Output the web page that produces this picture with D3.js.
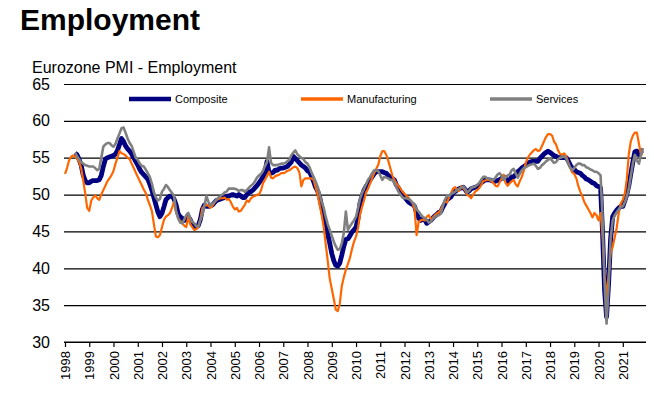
<!DOCTYPE html>
<html>
<head>
<meta charset="utf-8">
<script src="https://cdn.jsdelivr.net/npm/d3@7"></script>
<style>
  body { margin: 0; background: #fff; }
  svg { font-family: "Liberation Sans", Arial, sans-serif; display: block; }
</style>
</head>
<body>
<div id="chart"></div>
<script>
// Monthly series, Jan 1998 - Nov 2021 (one row per year)
var composite = [
  null, null, null, null, null, 55.6, 55.4, 54.8, 54.0, 52.7, 51.9, 51.6,
  51.6, 51.8, 51.9, 51.9, 51.9, 52.0, 52.6, 53.8, 54.8, 55.0, 55.1, 55.2,
  55.3, 55.5, 56.0, 56.8, 57.6, 57.2, 56.6, 56.2, 55.9, 55.5, 55.0, 54.5,
  54.0, 53.4, 53.0, 52.7, 52.4, 52.1, 51.4, 50.6, 49.6, 48.6, 47.6, 47.0,
  47.5, 48.4, 49.3, 49.6, 49.8, 49.8, 49.4, 48.6, 47.4, 47.0, 46.8, 46.5,
  46.6, 47.0, 46.6, 46.0, 45.8, 45.6, 45.8, 46.6, 48.0, 48.6, 48.4, 48.4,
  48.5, 48.6, 48.9, 49.2, 49.3, 49.4, 49.5, 49.6, 49.8, 49.8, 49.9, 50.0,
  49.9, 49.8, 50.0, 49.8, 49.6, 49.6, 50.0, 50.3, 50.4, 50.6, 50.9, 51.2,
  51.6, 52.0, 52.4, 53.0, 54.5, 53.0, 52.9, 53.0, 53.3, 53.3, 53.5, 53.6,
  53.6, 53.7, 53.8, 54.1, 54.4, 55.2, 54.9, 54.6, 54.3, 54.0, 53.8, 53.6,
  53.2, 53.1, 52.5, 51.8, 51.0, 50.5, 49.7, 48.4, 47.0, 45.9, 44.6, 43.4,
  42.0, 41.0, 40.4, 40.3, 40.7, 41.8, 43.0, 43.9, 44.0, 44.4, 44.9, 45.2,
  45.6, 46.8, 48.8, 49.8, 50.6, 51.1, 51.5, 52.0, 52.4, 52.8, 53.1, 53.1,
  53.1, 53.1, 53.0, 52.9, 52.6, 52.4, 52.2, 52.0, 51.3, 50.9, 50.4, 50.1,
  49.7, 49.3, 49.0, 48.8, 48.7, 48.4, 47.5, 46.8, 46.5, 46.7, 46.6, 46.1,
  46.3, 46.5, 46.8, 47.1, 47.3, 47.6, 47.7, 48.3, 48.8, 49.3, 49.5, 49.7,
  50.2, 50.4, 50.6, 50.8, 50.9, 51.0, 50.7, 50.3, 50.5, 50.8, 50.9, 51.0,
  51.1, 51.3, 51.6, 51.8, 52.0, 52.0, 52.0, 51.9, 51.8, 51.8, 51.9, 52.0,
  52.2, 52.4, 52.2, 51.8, 52.0, 52.4, 52.4, 52.7, 53.1, 53.3, 53.6, 53.8,
  54.0, 54.2, 54.4, 54.5, 54.5, 54.5, 54.5, 54.9, 55.2, 55.5, 55.7, 55.9,
  55.7, 55.5, 55.3, 55.2, 55.0, 55.0, 55.0, 55.0, 55.0, 54.6, 54.0, 53.6,
  53.4, 53.1, 53.0, 52.9, 52.6, 52.4, 52.1, 52.0, 51.8, 51.6, 51.5, 51.2,
  51.1, 50.9, 45.0, 37.0, 33.4, 38.0, 44.0, 47.0, 47.5, 47.9, 48.2, 48.4,
  48.4, 49.2, 50.0, 51.2, 52.8, 54.4, 55.8, 55.9, 55.4, 55.9, 56.0
];

var manufacturing = [
  52.8, 53.6, 54.6, 55.1, 55.3, 55.2, 54.9, 54.4, 53.6, 52.0, 50.2, 48.2,
  47.8, 49.2, 49.6, 49.9, 49.5, 49.3, 50.0, 50.6, 51.2, 51.8, 52.2, 52.6,
  53.2, 54.2, 55.0, 55.9, 55.6, 55.5, 55.3, 55.0, 54.8, 54.2, 53.6, 53.0,
  52.4, 51.8, 51.3, 50.7, 50.2, 49.3, 48.6, 47.8, 46.0, 44.3, 44.2, 44.5,
  45.6, 46.6, 47.0, 47.2, 47.5, 48.2, 49.0, 47.6, 46.8, 46.4, 46.1, 45.8,
  45.6, 47.0, 46.0, 45.6, 45.2, 45.3, 45.6, 46.6, 48.2, 48.4, 48.6, 48.5,
  48.2, 48.5, 48.9, 49.3, 49.4, 49.5, 49.5, 49.6, 49.3, 49.4, 49.0, 48.4,
  48.0, 48.2, 47.7, 47.8, 48.2, 48.6, 49.2, 49.0, 49.5, 49.7, 49.8, 50.0,
  50.0, 50.6, 51.5, 52.0, 52.5, 53.1, 52.3, 52.2, 52.5, 52.6, 52.7, 52.9,
  52.9, 53.0, 53.2, 53.3, 53.5, 53.7, 53.8, 53.6, 53.0, 51.1, 52.0, 52.2,
  52.2, 52.2, 52.2, 52.0, 51.0, 50.0, 48.6, 47.3, 45.6, 43.3, 41.0, 38.6,
  37.2, 35.8, 34.4, 34.2, 35.2, 37.6, 38.8, 39.8, 40.6, 41.4, 42.6, 43.6,
  44.3, 45.5, 47.2, 48.3, 49.2, 50.3, 50.8, 51.5, 52.2, 52.9, 53.5, 54.0,
  55.2, 55.9, 55.9, 55.4, 54.6, 53.6, 52.6, 52.0, 51.5, 51.2, 50.8, 50.4,
  50.1, 49.8, 49.6, 49.2, 48.8, 48.0, 44.5, 46.3, 46.5, 46.6, 46.5, 47.0,
  47.2, 46.6, 46.9, 47.2, 47.4, 47.6, 48.0, 48.6, 49.1, 48.9, 49.6, 50.2,
  50.8, 51.0, 50.6, 50.5, 51.1, 50.9, 50.6, 50.0, 49.8, 49.5, 50.0, 50.4,
  50.6, 50.9, 51.3, 51.8, 51.9, 52.0, 52.0, 51.8, 51.6, 51.2, 51.1, 51.6,
  52.2, 52.7, 51.6, 51.2, 51.5, 51.8, 52.0, 51.4, 51.1, 51.8, 52.4, 53.2,
  54.3, 55.0, 55.4, 55.7, 56.0, 56.2, 55.9, 56.0, 56.6, 57.2, 57.8, 58.2,
  58.2, 58.0, 57.2, 56.8, 56.0, 55.5, 55.4, 55.6, 55.2, 54.4, 53.6, 53.0,
  52.8, 52.2, 51.2, 50.4, 49.8, 49.0, 48.5, 48.0, 47.5, 46.9, 47.5, 47.2,
  46.5, 47.5, 44.5, 39.0, 36.1, 39.0, 42.0, 42.9, 44.2, 45.5, 47.5, 48.8,
  49.3, 50.2, 52.0, 55.5, 57.2, 58.0, 58.4, 58.4, 56.9, 55.4, 55.5
];

var services = [
  null, null, null, null, null, 55.7, 55.2, 54.8, 54.4, 54.2, 54.0, 53.9,
  53.8, 53.8, 53.8, 53.6, 53.3, 53.5, 55.0, 56.5, 56.8, 57.0, 57.0, 56.7,
  56.5, 56.9, 57.6, 58.3, 59.0, 59.1, 58.4, 57.6, 57.0, 56.6, 55.8, 55.0,
  54.7, 54.2, 53.9, 53.8, 53.4, 52.9, 52.4, 51.5, 50.3, 49.6, 49.2, 49.4,
  50.4, 50.8, 51.3, 51.0, 50.6, 50.2, 49.8, 47.8, 46.8, 46.2, 46.1, 46.6,
  47.2, 47.5, 46.8, 46.3, 46.1, 45.7, 45.7, 46.5, 47.3, 48.5, 49.8, 49.0,
  48.5, 48.8, 49.0, 49.3, 49.6, 49.8, 50.0, 50.3, 50.4, 50.8, 50.8, 50.8,
  50.8, 50.7, 50.5, 50.6, 50.6, 50.4, 50.6, 50.9, 51.2, 51.4, 51.8, 52.3,
  52.6, 52.8, 53.2, 53.9, 54.4, 56.4, 54.3, 54.0, 54.0, 54.0, 54.1, 54.2,
  54.2, 54.3, 54.5, 54.7, 55.3, 55.7, 56.0, 55.5, 55.2, 55.0, 54.8, 54.4,
  54.2, 53.7, 53.0, 52.4, 51.8, 51.1, 50.2, 49.0, 48.2, 47.0, 46.0, 45.2,
  44.4, 43.6, 43.0, 42.5, 42.6, 43.4, 44.8, 47.7, 45.2, 45.7, 46.1, 46.5,
  47.0, 48.2, 49.4, 50.2, 50.8, 51.4, 52.0, 52.4, 52.9, 53.3, 53.3, 53.2,
  52.6, 52.0, 52.4, 52.3, 52.2, 52.0, 52.0, 51.6, 51.0, 50.4, 50.0, 49.6,
  49.5, 49.5, 49.4, 49.2, 48.9, 48.6, 48.0, 47.7, 47.3, 47.0, 46.8, 46.6,
  46.2, 46.3, 46.7, 47.0, 47.1, 47.2, 47.4, 48.4, 49.3, 49.8, 49.8, 50.1,
  50.2, 50.4, 50.6, 50.8, 50.9, 51.1, 50.8, 50.3, 50.5, 50.9, 51.0, 51.1,
  51.3, 51.6, 52.0, 52.4, 52.4, 52.2, 52.1, 52.0, 52.0, 52.3, 52.7, 52.9,
  52.6, 52.0, 52.3, 52.6, 52.7, 53.3, 53.5, 52.9, 52.3, 52.8, 53.3, 53.6,
  53.7, 53.9, 54.0, 54.1, 54.2, 53.9, 53.5, 53.6, 54.0, 54.2, 54.5, 54.7,
  54.9, 54.6, 54.3, 54.4, 54.8, 55.0, 55.1, 55.2, 54.9, 54.2, 53.7, 53.3,
  53.6, 54.0, 54.2, 54.2, 54.0, 54.0, 53.7, 53.6, 53.4, 53.3, 53.1, 53.1,
  52.9, 52.6, 47.0, 38.0, 32.5, 37.5, 44.0, 46.5, 47.2, 47.6, 48.0, 48.3,
  48.4, 49.0, 49.7, 50.8, 52.5, 54.2, 55.4, 54.6, 54.2, 55.4, 56.3
];

var yTicks = [30, 35, 40, 45, 50, 55, 60, 65];
var seriesNames = ["Composite", "Manufacturing", "Services"];
var seriesColors = ["#000080", "#ff6600", "#808080"];
var seriesWidths = [4.8, 2.2, 2.6];

var svgWidth = 654;
var svgHeight = 398;
var plotLeft = 64;
var plotRight = 646;

var svg = d3.select("#chart")
  .append("svg")
  .attr("width", svgWidth)
  .attr("height", svgHeight);

// titles
svg.append("text")
  .attr("x", 20)
  .attr("y", 30)
  .attr("font-size", 30)
  .attr("font-weight", "bold")
  .attr("fill", "#000")
  .text("Employment");

svg.append("text")
  .attr("x", 32)
  .attr("y", 73)
  .attr("font-size", 16)
  .attr("fill", "#000")
  .text("Eurozone PMI - Employment");

// scales
var x = d3.scaleTime()
  .domain([new Date(1998, 0, 1), new Date(2021, 11, 1)])
  .range([65, 645]);

var y = d3.scaleLinear()
  .domain([30, 65])
  .range([342, 84]);

// gridlines + y labels
var yAxis = svg.append("g")
  .attr("transform", `translate(${plotLeft}, 0)`)
  .call(d3.axisLeft(y).tickValues(yTicks).tickSize(-(plotRight - plotLeft)).tickPadding(14));
yAxis.select(".domain").remove();
yAxis.selectAll("line").attr("stroke", "#000").attr("stroke-width", 1.2);
yAxis.selectAll("text")
  .attr("font-family", "Liberation Sans, Arial, sans-serif")
  .attr("font-size", 16)
  .attr("fill", "#000");

// x axis
var xAxis = svg.append("g")
  .attr("transform", `translate(0, ${y(30)})`)
  .call(d3.axisBottom(x)
    .ticks(d3.timeYear.every(1))
    .tickFormat(d3.timeFormat("%Y"))
    .tickSize(5)
    .tickSizeOuter(0));
xAxis.select(".domain").remove();
xAxis.selectAll("line").attr("stroke", "#000").attr("stroke-width", 1.2);
xAxis.selectAll("text")
  .attr("font-family", "Liberation Sans, Arial, sans-serif")
  .attr("font-size", 13)
  .attr("fill", "#000")
  .attr("text-anchor", "end")
  .attr("x", 0)
  .attr("y", 0)
  .attr("dy", "0.35em")
  .attr("transform", "translate(0, 9) rotate(-90)");

svg.append("line")
  .attr("x1", plotLeft).attr("x2", plotRight)
  .attr("y1", y(30)).attr("y2", y(30))
  .attr("stroke", "#000").attr("stroke-width", 1.2);

// lines
var allSeries = [composite, manufacturing, services];
var line = d3.line()
  .defined(d => d.v != null)
  .x(d => x(d.date))
  .y(d => y(d.v));

allSeries.forEach(function(values, k) {
  var pts = values.map((v, i) => ({ date: new Date(1998, i, 1), v: v }));
  svg.append("path")
    .datum(pts)
    .attr("fill", "none")
    .attr("stroke", seriesColors[k])
    .attr("stroke-width", seriesWidths[k])
    .attr("stroke-linejoin", "round")
    .attr("d", line);
});

// legend
var legendX = [129, 301, 490];
seriesNames.forEach(function(name, k) {
  var g = svg.append("g").attr("transform", `translate(${legendX[k]}, 99)`);
  g.append("line")
    .attr("x1", 0).attr("x2", 42)
    .attr("stroke", seriesColors[k])
    .attr("stroke-width", k === 0 ? 4.5 : 3.5);
  g.append("text")
    .attr("x", 46)
    .attr("y", 4)
    .attr("font-size", 11)
    .attr("fill", "#000")
    .text(name);
});
</script>
</body>
</html>
